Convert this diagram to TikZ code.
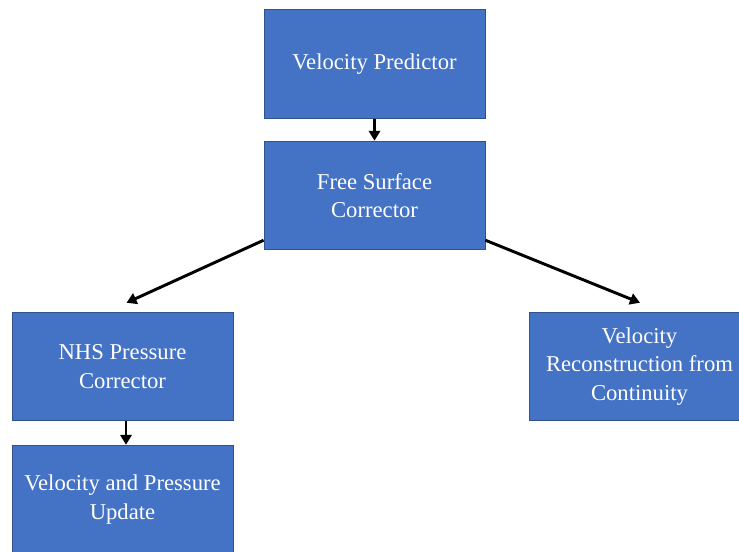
\documentclass[tikz,border=0pt]{standalone}
\usepackage{fontspec}
\setmainfont{Liberation Serif}
\usetikzlibrary{arrows.meta,calc}
\definecolor{boxfill}{HTML}{4472C4}
\definecolor{boxline}{HTML}{2F528F}
\tikzset{
  stagebox/.style={rectangle, draw=boxline, line width=0.6pt, fill=boxfill, text=white,
    minimum width=165.75pt, minimum height=81.5pt, align=center, inner sep=0pt,
    font=\fontsize{17}{21.3}\selectfont},
  flowarrow/.style={draw=black, line width=2.2pt, -{Triangle[length=7.5pt,width=8.5pt]}}
}
\begin{document}
\begin{tikzpicture}[x=0.75pt,y=-0.75pt]
\useasboundingbox (0,0) rectangle (739,552);
\clip (0,0) rectangle (739,552);
\node[stagebox] (vp)  at (374.5,64)  {Velocity Predictor};
\node[stagebox] (fsc) at (374.5,195.5) {Free Surface\\Corrector};
\node[stagebox] (nhs) at (122.5,366.5) {NHS Pressure\\Corrector};
\node[stagebox] (vpu) at (122.5,499.5) {Velocity and Pressure\\Update};
\node[stagebox] (vr)  at (639.5,366.5) {Velocity\\Reconstruction from\\Continuity};
\coordinate (fl) at ($(fsc.south west)+(0,-10)$);
\coordinate (fr) at ($(fsc.south east)+(0,-10)$);
\coordinate (nt) at ($(nhs.north)+(4,-9)$);
\coordinate (vt) at ($(vr.north)+(0.5,-9)$);
\draw[flowarrow] (vp.south) -- (fsc.north);
\draw[flowarrow] (fl) -- (nt);
\draw[flowarrow] (fr) -- (vt);
\draw[flowarrow] ($(nhs.south)+(3.5,0)$) -- ($(vpu.north)+(3.5,0)$);
\end{tikzpicture}
\end{document}
